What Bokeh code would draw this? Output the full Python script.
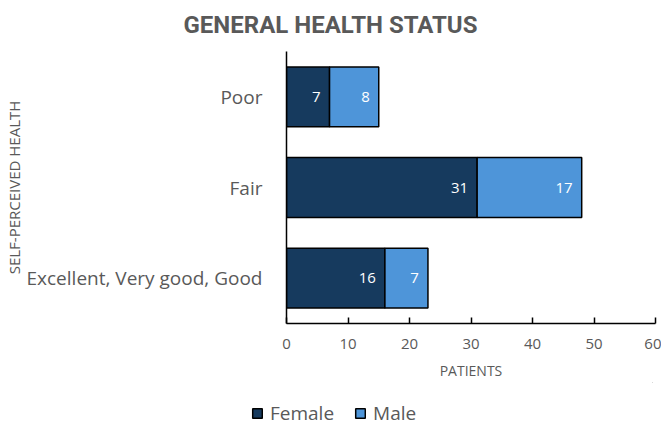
from bokeh.plotting import figure
from bokeh.layouts import column
from bokeh.models import ColumnDataSource, FactorRange, Range1d, Legend, LegendItem, LabelSet, Title
from bokeh.core.properties import value
from bokeh.embed import file_html
from bokeh.resources import INLINE

categories = ["Excellent, Very good, Good", "Fair", "Poor"]
female = [16, 31, 7]
male = [7, 17, 8]
x_ticks = [0, 10, 20, 30, 40, 50, 60]
series_names = ["Female", "Male"]

FEMALE_C = "#163A5E"
MALE_C = "#4E95D9"
GRAY = "#595959"
FONT = "Open Sans"

src = ColumnDataSource(dict(
    cat=categories,
    female=female,
    male=male,
    total=[f + m for f, m in zip(female, male)],
    zero=[0] * len(categories),
    flab=[str(v) for v in female],
    mlab=[str(v) for v in male],
))

p = figure(output_backend="svg", toolbar_location=None,
           y_range=FactorRange(*categories, range_padding=0.0),
           x_range=Range1d(0, 60),
           frame_width=369, frame_height=272,
           min_border_left=278, min_border_right=6, min_border_top=44, min_border_bottom=10)
p.y_range.factor_padding = 0.0
p.frame_align = False

r1 = p.hbar(y="cat", left="zero", right="female", height=0.66, source=src,
            fill_color=FEMALE_C, line_color="black", line_width=1.5)
r2 = p.hbar(y="cat", left="female", right="total", height=0.66, source=src,
            fill_color=MALE_C, line_color="black", line_width=1.5)

p.add_layout(LabelSet(x="female", y="cat", text="flab", source=src, x_offset=-9,
                      text_align="right", text_baseline="middle", text_color="white",
                      text_font_size="15px", text_font=value(FONT)))
p.add_layout(LabelSet(x="total", y="cat", text="mlab", source=src, x_offset=-9,
                      text_align="right", text_baseline="middle", text_color="white",
                      text_font_size="15px", text_font=value(FONT)))

p.grid.visible = False
p.outline_line_color = None

xa = p.xaxis[0]
xa.ticker = x_ticks
xa.axis_line_color = "black"
xa.axis_line_width = 1.5
xa.major_tick_in = 6
xa.major_tick_out = 0
xa.major_tick_line_color = "black"
xa.major_tick_line_width = 1.5
xa.minor_tick_line_color = None
xa.major_label_text_font = FONT
xa.major_label_text_font_size = "15px"
xa.major_label_text_color = GRAY
xa.major_label_standoff = 15
xa.axis_label = "PATIENTS"
xa.axis_label_text_font = FONT
xa.axis_label_text_font_size = "14px"
xa.axis_label_text_font_style = "normal"
xa.axis_label_text_color = GRAY
xa.axis_label_standoff = 9

ya = p.yaxis[0]
ya.axis_line_color = "black"
ya.axis_line_width = 1.5
ya.major_tick_line_color = None
ya.minor_tick_line_color = None
ya.major_label_text_font = FONT
ya.major_label_text_font_size = "19px"
ya.major_label_text_color = GRAY
ya.major_label_standoff = 18
ya.axis_label = "SELF-PERCEIVED HEALTH"
ya.axis_label_text_font = FONT
ya.axis_label_text_font_size = "15px"
ya.axis_label_text_font_style = "normal"
ya.axis_label_text_color = GRAY
ya.axis_label_standoff = 0

p.title = Title(text="GENERAL HEALTH STATUS", align="left", offset=-103,
                vertical_align="top",
                text_font="Roboto", text_font_size="24px", text_font_style="bold",
                text_color=GRAY, standoff=21)

# legend strip below the chart
lg = figure(width=653, height=44, output_backend="svg", toolbar_location=None,
            x_range=Range1d(0, 1), y_range=Range1d(0, 1),
            x_axis_type=None, y_axis_type=None,
            min_border_left=0, min_border_right=0, min_border_top=0, min_border_bottom=0)
lg.frame_align = False
lg.grid.visible = False
lg.outline_line_color = None
dummy = ColumnDataSource(dict(y=[5], l=[5], r=[6]))
d1 = lg.hbar(y="y", left="l", right="r", height=1, source=dummy,
             fill_color=FEMALE_C, line_color="black", line_width=1.5)
d2 = lg.hbar(y="y", left="l", right="r", height=1, source=dummy,
             fill_color=MALE_C, line_color="black", line_width=1.5)
legend = Legend(items=[LegendItem(label=series_names[0], renderers=[d1]),
                       LegendItem(label=series_names[1], renderers=[d2])],
                orientation="horizontal", location=(251, 0),
                label_text_font=FONT, label_text_font_size="19px", label_text_color=GRAY,
                glyph_width=12, glyph_height=12, spacing=20, label_standoff=7,
                border_line_color=None, background_fill_alpha=0, margin=0, padding=0)
lg.add_layout(legend, "center")

layout = column(p, lg, spacing=0)
open("out.html", "w").write(file_html(layout, INLINE))
